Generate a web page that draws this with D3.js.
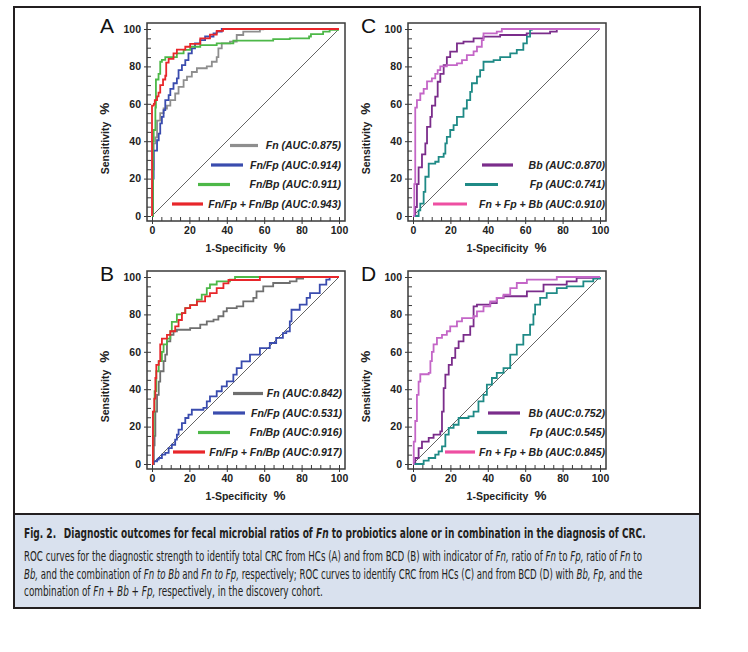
<!DOCTYPE html>
<html><head><meta charset="utf-8">
<script src="https://cdn.jsdelivr.net/npm/d3@7"></script>
<style>body{margin:0;background:#fff}svg{display:block}</style>
</head><body><svg id="c" width="748" height="652"></svg>
<script>
// ---------- data ----------
const majorTicks = [0, 20, 40, 60, 80, 100];
const minorTicks = [0,5,10,15,20,25,30,35,40,45,50,55,60,65,70,75,80,85,90,95,100];

const aFn = [[0,0],[0.5,25],[0.9,38.8],[1.8,42],[2.7,51],[4.4,55],[6.2,57.5],[8,59],[9.8,62],[12.4,65.5],[14.2,69],[16.9,72.7],[18.7,74.5],[21.3,77],[24,79],[29.3,80],[32,82.5],[34.6,85],[35.5,89.6],[37.3,92.3],[41.7,93.2],[45.3,96.8],[48.8,98.6],[57.7,99.8],[59.5,100],[100,100]];
const aFnFp = [[0,0],[0.5,20],[0.9,35],[2.7,40.5],[3.6,44],[4.4,49.5],[5.3,53],[6.2,56.6],[7.1,62],[8.9,64.6],[9.8,68],[11.5,71],[13.3,73.6],[14.2,78],[16,80.7],[17.8,83.4],[19.5,87],[21.3,89.6],[23,92.3],[25.8,94],[28.4,96],[32.9,97.7],[34.6,98.6],[37.3,100],[100,100]];
const aFnBp = [[0,0],[0.5,40],[0.9,46],[1.8,58],[2.1,73],[3.5,76],[4.4,82.5],[5.3,83.5],[7.1,85],[9.8,85],[13.3,87],[16.9,88.8],[20.4,90.5],[25.8,91.4],[34.6,92.3],[41.7,92.3],[43.5,93.8],[56,93.8],[64.8,94.6],[73.7,95],[84,96],[85,97.3],[91.5,98.6],[95,99.5],[99.5,100],[100,100]];
const aComb = [[0,0],[0,59],[1,60],[1.5,62],[2.7,64],[3.5,66],[4.4,70],[5.9,73],[7.1,75],[7.6,82],[8.9,84],[11.5,87],[13.3,89],[17.8,90.5],[20.4,92],[25.8,95],[31,97],[34.6,99],[38,100],[100,100]];

const bFn = [[0,0],[1,10],[1.4,15],[1.8,28],[2.7,37],[3.6,44],[4.4,49.6],[6.2,55],[7.1,58.5],[8,65.6],[9.8,69],[11.5,71],[13.3,71.8],[20.4,72.7],[25.8,74.5],[29.3,76.3],[32.9,77.2],[35.5,79],[38.2,81.6],[40,83.4],[45.3,84.3],[48.8,87],[54.2,88.8],[55.9,92.3],[59.5,95],[64.8,96.8],[73.7,97.7],[77.3,99.1],[80.8,100],[100,100]];
const bFnFp = [[0,0],[0.9,1.4],[2.7,2.3],[3.6,3.2],[5.3,5],[7.1,5.9],[8.9,8.5],[10.6,10.3],[12.4,13],[13.3,15.7],[14.2,18.4],[16,21.9],[17.8,24.6],[19.5,26.4],[21.3,29],[27.5,30],[29.3,33.5],[31,36.2],[34.6,38.9],[37.3,41.5],[40,44.2],[43.5,47.8],[45.3,51.3],[47.9,54.9],[52.4,58.5],[57.7,62],[63,64.7],[66.4,67.4],[70,70],[71.8,70.9],[73.7,76.3],[74.6,82.5],[79,85.2],[82.7,88.8],[84.5,91.4],[89.7,95.9],[93.2,98.6],[95,100],[100,100]];
const bFnBp = [[0,0],[0.5,15],[0.9,28],[1.4,39],[2.3,49.6],[3.6,55],[5.3,60],[6.2,64],[8,67],[9.8,71],[10.6,76],[13.3,80],[16,80.7],[17.8,83.4],[20.4,85],[24,87.9],[26.6,90.6],[29.3,94],[31,96],[34.6,97.7],[41.7,98.6],[44.4,100],[100,100]];
const bComb = [[0,0],[0.5,28],[1.2,35],[1.8,46],[2.3,53],[3.6,55],[4.4,64],[5.3,67],[8,69],[9.8,71],[12.4,73.6],[14.2,77],[16,80.7],[17.8,83.4],[20.4,85],[24,87],[28.4,89.6],[31,91.4],[34.6,94],[38.2,96.6],[40.9,98.4],[45.3,98.4],[57.7,100],[100,100]];

const cBb = [[0,0],[1.2,4.8],[2.1,17],[3,26],[4.8,33],[6.6,38.8],[7.5,47.7],[9.3,53],[10.1,59],[11.9,63.8],[13.2,71.8],[14.6,76],[16.4,80.7],[18.1,85],[19.9,87.9],[23.5,92.3],[27,93.2],[32.4,95],[37.7,95.9],[46.6,96.8],[60.8,97.7],[73.3,98.6],[76.9,100],[100,100]];
const cFp = [[0,0],[3,3],[3.9,6.6],[5.7,12.9],[6.6,21],[8.4,28],[11.9,29],[13.7,31.6],[16.4,33.4],[17.3,38.8],[18.1,42.3],[19.9,46],[21.7,48.6],[23.5,53],[27,57.5],[28.8,62],[30.6,66.4],[31.5,71],[34.2,74.5],[35.9,78],[37.7,82.5],[43.1,83.4],[46.6,85],[52,87],[55.5,88.8],[59,92.3],[60.9,95.9],[62.6,99.5],[63.5,100],[100,100]];
const cComb = [[0,0],[0.7,17],[1.2,58],[2.1,62],[3.9,65.5],[5.7,68],[7.5,72],[10.1,73.6],[11.9,76],[13.2,78],[14.6,80],[18.1,80.7],[23.5,81.6],[26.2,83.4],[28.8,86],[32.4,88],[34.2,90.5],[36.8,94],[37.7,97.7],[44.8,98.6],[47.5,100],[100,100]];

const dBb = [[0,0],[1.2,3.2],[3,8.5],[4.8,12],[8.4,14],[11,15.7],[14.6,17.5],[15.5,28],[16.4,40.6],[17.3,47.8],[19.1,53],[20.8,56.7],[22.6,62],[24.4,65.6],[27,69],[30.6,73.6],[32.4,84.3],[34.2,85.2],[41.3,86],[44.8,88.8],[48.4,89.7],[55,89.7],[60.9,92.3],[69.8,95.9],[82.2,97.7],[87.5,99.5],[98,100],[100,100]];
const dFp = [[0,0],[3.9,0],[5.7,1.8],[8.4,3.2],[11.9,5],[13.7,6.8],[15.5,9.4],[17.3,15.7],[19.1,19.3],[21.7,21],[24.4,24.6],[29.7,25.5],[32.4,28],[35,33.5],[37.7,37],[39.5,42.4],[42.2,46],[44.8,48.7],[48.4,51.3],[52,58.5],[55.5,63.8],[59,69],[62.6,74.5],[64.4,80],[65.3,85.2],[68,88.8],[71.5,91.4],[76.9,94],[82.2,95],[91.1,97.7],[96.4,99.1],[100,100]];
const dComb = [[0,0],[0.4,12],[1.2,23],[2.1,37],[3,44],[3.9,48],[8.4,48.7],[9.3,55],[10.1,60],[11,64],[12.8,67.4],[15.5,69],[18.1,71],[19.9,73.6],[23.5,76.3],[26.2,78],[32.4,79],[34.2,81.6],[37.7,84.3],[41.3,87],[44.8,88.8],[48.4,90.6],[52,94],[55.5,96.8],[60.9,98.6],[76.9,100],[100,100]];

const labelsA = ["Fn (AUC:0.875)", "Fn/Fp (AUC:0.914)", "Fn/Bp (AUC:0.911)", "Fn/Fp + Fn/Bp (AUC:0.943)"];
const labelsB = ["Fn (AUC:0.842)", "Fn/Fp (AUC:0.531)", "Fn/Bp (AUC:0.916)", "Fn/Fp + Fn/Bp (AUC:0.917)"];
const labelsC = ["Bb (AUC:0.870)", "Fp (AUC:0.741)", "Fn + Fp + Bb (AUC:0.910)"];
const labelsD = ["Bb (AUC:0.752)", "Fp (AUC:0.545)", "Fn + Fp + Bb (AUC:0.845)"];

const colorsA = ["#8e8e8e", "#3a4cae", "#4db848", "#e8262a"];
const colorsB = ["#6f6f6f", "#3a4cae", "#4db848", "#e8262a"];
const colorsCD = ["#7b2d8b", "#1f8a86", "#c466c7"];
const legendColorsCD = ["#7b2d8b", "#1f8a86", "#ee4fa2"];

const captionLines = [
  [["Fig. 2.\u2002 Diagnostic outcomes for fecal microbial ratios of ",0],["Fn",1],[" to probiotics alone or in combination in the diagnosis of CRC.",0]],
  [["ROC curves for the diagnostic strength to identify total CRC from HCs (A) and from BCD (B) with indicator of ",0],["Fn,",1],[" ratio of ",0],["Fn",1],[" to ",0],["Fp,",1],[" ratio of ",0],["Fn",1],[" to",0]],
  [["Bb,",1],[" and the combination of ",0],["Fn to Bb",1],[" and ",0],["Fn to Fp,",1],[" respectively; ROC curves to identify CRC from HCs (C) and from BCD (D) with ",0],["Bb, Fp,",1],[" and the",0]],
  [["combination of ",0],["Fn",1],[" + ",0],["Bb",1],[" + ",0],["Fp,",1],[" respectively, in the discovery cohort.",0]]
];

// ---------- layout ----------
const svg = d3.select("#c");
const FONT = "'Liberation Sans', Arial, Helvetica, sans-serif";

const panels = [
  {letter:"A", x0:152, x1:339, yTop:29, yBot:216, series:[aFn,aFnFp,aFnBp,aComb], colors:colorsA, lcolors:colorsA, labels:labelsA,
   lx:[[78,106],[59,91],[46,78],[20,51]], textRight:189},
  {letter:"C", x0:413, x1:600, yTop:29, yBot:216, series:[cBb,cFp,cComb], colors:colorsCD, lcolors:legendColorsCD, labels:labelsC,
   lx:[[69,100],[52,85],[20,54]], textRight:192},
  {letter:"B", x0:152, x1:339, yTop:277, yBot:464, series:[bFn,bFnFp,bFnBp,bComb], colors:colorsB, lcolors:colorsB, labels:labelsB,
   lx:[[81,111],[61,93],[46,78],[21,53]], textRight:190},
  {letter:"D", x0:413, x1:600, yTop:277, yBot:464, series:[dBb,dFp,dComb], colors:colorsCD, lcolors:legendColorsCD, labels:labelsD,
   lx:[[75,107],[64,94],[32,62]], textRight:192}
];

// outer frame
svg.append("rect").attr("x",14).attr("y",514).attr("width",686).attr("height",94).attr("fill","#d9e1ee");
svg.append("rect").attr("x",14).attr("y",7).attr("width",686).attr("height",601)
  .attr("fill","none").attr("stroke","#231f20").attr("stroke-width",2);
svg.append("line").attr("x1",14).attr("x2",700).attr("y1",514).attr("y2",514).attr("stroke","#231f20").attr("stroke-width",2);

panels.forEach(p => {
  const x = d3.scaleLinear().domain([0,100]).range([p.x0, p.x1]);
  const y = d3.scaleLinear().domain([0,100]).range([p.yBot, p.yTop]);
  const fl = p.x0 - 5, fr = p.x1 + 6, ft = p.yTop - 6, fb = p.yBot + 5;
  const g = svg.append("g");

  g.append("rect").attr("x",fl).attr("y",ft).attr("width",fr-fl).attr("height",fb-ft)
    .attr("fill","none").attr("stroke","#3a3a3a").attr("stroke-width",1.5);

  const mx = g.append("g").attr("transform",`translate(0,${fb})`)
    .call(d3.axisBottom(x).tickValues(minorTicks).tickSize(-4).tickFormat(""));
  const my = g.append("g").attr("transform",`translate(${fl},0)`)
    .call(d3.axisLeft(y).tickValues(minorTicks).tickSize(-4).tickFormat(""));
  const ax = g.append("g").attr("transform",`translate(0,${fb})`)
    .call(d3.axisBottom(x).tickValues(majorTicks).tickSize(3).tickPadding(3));
  const ay = g.append("g").attr("transform",`translate(${fl},0)`)
    .call(d3.axisLeft(y).tickValues(majorTicks).tickSize(3).tickPadding(3));
  [mx,my,ax,ay].forEach(a => {
    a.select(".domain").remove();
    a.selectAll("line").attr("stroke","#3a3a3a").attr("stroke-width",1);
  });
  [ax,ay].forEach(a => a.selectAll("text").attr("font-family",FONT).attr("font-weight","bold")
    .attr("font-size","10.5px").attr("fill","#222"));

  g.append("line").attr("x1",x(0)).attr("y1",y(0)).attr("x2",x(100)).attr("y2",y(100))
    .attr("stroke","#222").attr("stroke-width",0.7);

  const line = d3.line().x(d=>x(d[0])).y(d=>y(d[1])).curve(d3.curveStepAfter);
  p.series.forEach((s,i) => {
    g.append("path").attr("d",line(s)).attr("fill","none").attr("stroke",p.colors[i])
      .attr("stroke-width",1.8);
  });

  const n = p.labels.length;
  p.labels.forEach((lab,i) => {
    const ry = p.yBot - 12 - (n-1-i)*19.5;
    g.append("line").attr("x1",p.x0+p.lx[i][0]).attr("x2",p.x0+p.lx[i][1]).attr("y1",ry).attr("y2",ry)
      .attr("stroke",p.lcolors[i]).attr("stroke-width",3.2);
    g.append("text").attr("x",p.x0+p.textRight).attr("y",ry).attr("dy","0.36em")
      .attr("text-anchor","end").attr("font-family",FONT).attr("font-weight","bold")
      .attr("font-style","italic").attr("font-size","10.5px").attr("fill","#222").text(lab);
  });

  g.append("text").attr("x",p.x0-52).attr("y",p.yTop+4).attr("font-family",FONT)
    .attr("font-size","21px").attr("fill","#111").text(p.letter);

  const xt = g.append("text").attr("x",x(50)).attr("y",p.yBot+36).attr("text-anchor","middle")
    .attr("font-family",FONT).attr("font-weight","bold").attr("fill","#222");
  xt.append("tspan").attr("font-size","10.5px").text("1-Specificity");
  xt.append("tspan").attr("font-size","13.5px").attr("dx",6).text("%");

  const yt = g.append("text").attr("transform",`translate(${p.x0-43},${y(50)+16}) rotate(-90)`)
    .attr("text-anchor","middle").attr("font-family",FONT).attr("font-weight","bold").attr("fill","#222");
  yt.append("tspan").attr("font-size","10.5px").text("Sensitivity");
  yt.append("tspan").attr("font-size","13.5px").attr("dx",7).text("%");
});

// caption: condensed font, horizontally scaled to the measured line widths
const capFont = "'Liberation Sans Narrow', 'DejaVu Sans Condensed', 'Open Sans', sans-serif";
const capSpecs = [
  {y:538, size:14, bold:true, len:622},
  {y:560.5, size:13.5, bold:false, len:619},
  {y:578.5, size:13.5, bold:false, len:619},
  {y:596, size:13.5, bold:false, len:299}
];
captionLines.forEach((segs,i) => {
  const s = capSpecs[i];
  const t = svg.append("text").attr("x",0).attr("y",0).attr("font-family",capFont)
    .attr("font-size",s.size+"px").attr("font-weight",s.bold?"bold":"normal").attr("fill","#231f20");
  segs.forEach(sg => t.append("tspan").attr("font-style",sg[1]?"italic":"normal").text(sg[0]));
  const w = t.node().getComputedTextLength();
  t.attr("transform",`translate(24,${s.y}) scale(${s.len/w},1)`);
});
</script></body></html>
